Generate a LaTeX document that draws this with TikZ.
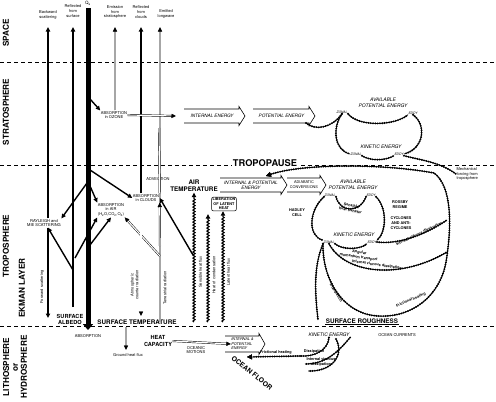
\documentclass[tikz,border=0pt]{standalone}
\usepackage{fontspec}
\setmainfont{TeX Gyre Heros}
\usepackage{graphicx}
\usetikzlibrary{arrows.meta,decorations.pathmorphing}
\tikzset{
  tiny/.style={font=\fontsize{4}{4.8}\selectfont, align=center, inner sep=0.4pt},
  tinyb/.style={font=\bfseries\fontsize{3.8}{4.9}\selectfont, align=center, inner sep=0.4pt},
  lab/.style={font=\bfseries\fontsize{6.3}{7}\selectfont, align=center, inner sep=0.5pt},
  labs/.style={font=\bfseries\fontsize{5.6}{6.4}\selectfont, align=center, inner sep=0.5pt},
  ital/.style={font=\itshape\fontsize{4.9}{5.8}\selectfont, align=center, inner sep=0.4pt},
  zone/.style={font=\itshape\fontsize{3.3}{3.6}\selectfont, inner sep=0.3pt},
  layer/.style={font=\bfseries\fontsize{8.2}{8.8}\selectfont, rotate=90, align=center, inner sep=0pt},
  layerline/.style={line width=0.8pt, dash pattern=on 4pt off 3pt},
  htext/.style={font=\itshape\fontsize{4.6}{5.3}\selectfont, align=center, inner sep=0.3pt},
  hollowline/.style={line width=0.6pt, line join=miter},
  arr/.style={-{Triangle[length=4.5pt,width=4.2pt]}},
  arrb/.style={-{Triangle[length=5pt,width=5pt,line width=0.3pt]}},
  bar1/.style={line width=1.4pt},
  bar2/.style={line width=2.3pt},
  qsbar/.style={line width=5pt},
  dbl/.style={double=white, double distance=1.1pt, line width=0.45pt},
  gdbl/.style={double=black!35, double distance=1.5pt, line width=0.45pt},
  bead/.style={preaction={draw, solid, line width=0.7pt}, line width=2.1pt, dash pattern=on 0pt off 2.3pt, line cap=round},
  wavy/.style={decorate, decoration={snake, amplitude=1.1pt, segment length=3pt, post length=5pt}, line width=1.1pt},
}
\newcommand\hollowarr[7]{%
  \draw[hollowline] ({#2},{#4-#5}) -- ({#3-6},{#4-#5}) -- ({#3-6},{#4-#5-2.5}) -- ({#3},{#4}) -- ({#3-6},{#4+#5+2.5}) -- ({#3-6},{#4+#5}) -- ({#2},{#4+#5});%
  \node[htext,#7] (#1) at ({(#2+#3)/2-2.5},{#4}) {#6};}
\begin{document}
\begin{tikzpicture}[x=1pt,y=-1pt]
\useasboundingbox (0,0) rectangle (496,402);
% layer boundaries
\draw[layerline] (0,62) -- (496,62);
\draw[layerline] (0,165) -- (496,165);
\draw[layerline] (0,326) -- (496,326);
\node[font=\bfseries\fontsize{9.3}{9.3}\selectfont, fill=white, inner sep=1pt] (tpause) at (265,163) {TROPOPAUSE};

% layer labels
\node[layer] (lspace) at (6,33) {SPACE};
\node[layer] (lstrat) at (6,112) {STRATOSPHERE};
\node[layer] (ltrop) at (6,246) {TROPOSPHERE};
\node[layer] (lekman) at (22,288) {EKMAN LAYER};
\node[layer] (llith) at (15,367) {LITHOSPHERE\\or\\HYDROSPHERE};

% top labels
\node[tiny] (lback) at (48,15) {Backward\\scattering};
\node[tiny] (lrefs) at (73,11) {Reflected\\from\\surface};
\node[font=\fontsize{4.5}{5}\selectfont, inner sep=0.3pt] (lqs) at (88,3) {Q\textsubscript{s}};
\node[tiny] (lemis) at (115,12) {Emission\\from\\stratosphere};
\node[tiny] (lrefc) at (141,12) {Reflected\\from\\clouds};
\node[tiny] (lemit) at (166,14) {Emitted\\longwave};

\coordinate (tback) at (48,27);
\coordinate (trefs) at (73,27);
\coordinate (qstop) at (88,8);
\coordinate (temis) at (115,27);
\coordinate (trefc) at (141,27);
\coordinate (temit) at (160,27);
\coordinate (bback) at (48,318);
\coordinate (brefs) at (73,307);
\coordinate (qsbot) at (88,330);
\coordinate (blong) at (160,322);

% nodes: atmosphere absorbers
\node[tiny, fill=white] (ozone) at (114,115) {ABSORPTION\\in OZONE};
\node[tiny, fill=white] (ray) at (44,223) {RAYLEIGH and\\MIE SCATTERING};
\node[tiny, fill=white] (absair) at (111,210) {ABSORPTION\\in AIR\\(H\textsubscript{2}O,CO\textsubscript{2},O\textsubscript{3})};
\node[tiny, fill=white] (abscl) at (146,198) {ABSORPTION\\in CLOUDS};
\node[tiny] (adv) at (158,179) {ADVECTION};
\node[tiny, rotate=90] (lfwd) at (42,287) {Forward scattering};
\node[tiny, rotate=90] (lacr) at (134.5,285) {Atmospheric\\counter radiation};
\node[tiny, rotate=90] (lterr) at (165,288) {Terrestrial radiation};

% surface nodes
\node[labs] (albedo) at (70,319.5) {SURFACE\\ALBEDO};
\node[tiny] (absorp) at (88,336) {ABSORPTION};
\node[lab] (stemp) at (137,322) {SURFACE TEMPERATURE};
\node[labs] (heatcap) at (158,341) {HEAT\\CAPACITY};
\node[tiny] (lgrd) at (128,355) {Ground heat flux};
\node[tiny] (locm) at (196,350) {OCEANIC\\MOTIONS};
\node[lab] (rough) at (362,321) {SURFACE ROUGHNESS};
\draw[line width=0.5pt] (rough.south west) -- (rough.south east);
\node[font=\bfseries\fontsize{6.8}{7}\selectfont, rotate=-39, inner sep=0.5pt] (floor) at (252,373) {OCEAN FLOOR};
\node[ital] (oke) at (329,335) {KINETIC ENERGY};
\node[tiny] (ocur) at (397,335) {OCEAN CURRENTS};

% vertical radiation lines
\draw[bar1,arr] (ray.north -| tback) -- (tback);
\draw[bar1,arr] (ray.south -| tback) -- (bback);
\draw[bar2,arr] (brefs) -- (trefs);
\draw[gdbl,arr] (ozone.north -| temis) -- (temis);
\draw[bar2,arr] (abscl.north -| trefc) -- (trefc);
\draw[gdbl,arr] (blong) -- (temit);
\draw[qsbar,-{Triangle[length=6pt,width=10pt]}] (qstop) -- (qsbot);

% branches of Qs
\coordinate (qs1) at (90,99);
\coordinate (qs2) at (90,170);
\coordinate (qs3) at (87,183);
\coordinate (qs4) at (90,186);
\coordinate (qs5) at (90,245);
\draw[bar1,arr] (qs1) -- (ozone.north west);
\draw[bar1,arr] (qs2) -- (abscl.west);
\draw[bar1,arr] (qs3) -- (ray.north east);
\draw[bar1,arr] (qs4) -- (absair.north west);
\draw[bar1,arr] (qs5) -- (absair.south);
% branches of surface reflection
\coordinate (rs1) at (73,270);
\coordinate (rs2) at (75,258);
\draw[bar1,arr] (rs1) -- (ray.-50);
\draw[bar1,arr] (rs2) -- (absair.south west);
% longwave
\coordinate (lw1) at (160,256);
\coordinate (lw2) at (160,246);
\coordinate (adv2) at (159,128);
\coordinate (crb) at (141,316);
\draw[dbl,arr] (lw1) -- (absair.south east);
\draw[dbl,arr] (lw2) -- (abscl.south east);
\draw[dbl,arr] (abscl.south -| crb) -- (crb);
\draw[dbl] (abscl.north east) -- (adv2);
% ozone to internal energy
\draw[dbl,arr] (ozone.east) -- (176,116);

% stratosphere energy
\hollowarr{inte}{184}{245}{116}{7}{INTERNAL ENERGY}{}
\hollowarr{pote}{253}{315}{116}{7}{POTENTIAL ENERGY}{}
\node[ital] (sape) at (383,103) {AVAILABLE\\POTENTIAL ENERGY};
\node[zone] (sz) at (342,112) {ZONAL};
\node[zone] (se) at (413,113) {EDDY};
\node[ital] (ske) at (381,147) {KINETIC ENERGY};
\node[zone] (skz) at (356,154) {ZONAL};
\node[zone] (skd) at (399,154) {EDDY};
\node[tiny, align=left, anchor=west] (mech) at (456,174) {Mechanical\\forcing from\\troposphere};
\coordinate (pe1) at (306,123);
\draw[bead] (pe1) .. controls (315,131) and (332,128) .. (sz.south);
\draw[bead] (sz.south east) .. controls (358,127) and (395,126) .. (se.south west);
\draw[bead] (se.south) .. controls (427,125) and (424,149) .. (skd.east);
\draw[bead] (sz.south) .. controls (332,128) and (334,150) .. (skz.west);
\draw[bead] (skz.south east) .. controls (370,161) and (385,161) .. (skd.south west);
\draw[bead] (skd.south east) .. controls (420,160) and (440,162) .. (mech.west);

% troposphere
\node[lab] (airt) at (194,186) {AIR\\TEMPERATURE};
\node[tinyb, font=\bfseries\fontsize{3.8}{4.5}\selectfont, draw, rounded corners=2pt, line width=0.5pt, inner sep=1pt] (lib) at (224,204) {LIBERATION\\OF LATENT\\HEAT};
\hollowarr{ipe}{220}{287}{185}{7}{INTERNAL \& POTENTIAL\\ENERGY}{}
\hollowarr{adc}{287}{326}{185}{7}{ADIABATIC\\CONVERSIONS}{font=\fontsize{3.8}{4.8}\selectfont}
\node[ital] (tape) at (353,185) {AVAILABLE\\POTENTIAL ENERGY};
\node[zone] (tz) at (330,195) {ZONAL};
\node[zone] (te) at (371,195) {EDDY};
\node[ital] (tke) at (354,235) {KINETIC ENERGY};
\node[zone] (tkz) at (329,242) {ZONAL};
\node[zone] (tkd) at (372,242) {EDDY};
\node[tinyb] (hadley) at (297,213) {HADLEY\\CELL};
\node[tinyb] (rossby) at (400,205) {ROSSBY\\REGIME};
\node[tinyb] (cyc) at (401,223) {CYCLONES\\AND ANTI-\\CYCLONES};
\node[tinyb, rotate=-12] (lsht) at (351,208) {Sensible\\heat transfer};
\node[tinyb, rotate=-8] (lamt) at (359,255) {Angular\\momentum transport};
\node[tinyb, rotate=25] (livd1) at (419,234) {Internal viscous dissipation};
\node[tinyb, rotate=-8] (livd2) at (377,265) {Internal viscous dissipation};
\node[tinyb, rotate=-58] (ldis) at (336,293) {Dissipation};
\node[tinyb, rotate=23] (lfric) at (411,300) {Frictional heating};

\draw[bead] (tz.south east) .. controls (340,213) and (360,213) .. (te.south west);
\draw[bead] (tz.south west) .. controls (309,210) and (307,236) .. (tkz.north west);
\draw[bead] (te.south east) .. controls (387,207) and (387,232) .. (tkd.north east);
\draw[bead] (tkz.south east) .. controls (342,250) and (360,250) .. (tkd.south west);
\coordinate (rj1) at (447,220);
\coordinate (rj2) at (447,252);
\coordinate (tpa) at (266,176);
\draw[bead] (tkd.east) .. controls (400,245) and (428,233) .. (rj1);
\draw[bead] (tkz.south) .. controls (345,274) and (400,280) .. (rj2);
\draw[bead, arrb] (tkz.south west) .. controls (322,278) and (342,314) .. (378,316) .. controls (412,318) and (440,296) .. (446,262) .. controls (452,226) and (452,186) .. (434,173) .. controls (380,163) and (300,164) .. (tpa);
\coordinate (rgh) at (318,320);
\draw[bead] (tkz.south west) .. controls (312,270) and (316,300) .. (rgh);

% heat fluxes
\coordinate (sw1) at (194,322);
\coordinate (sw2) at (208,322);
\coordinate (sw3) at (223,322);
\coordinate (hc) at (208,214);
\draw[wavy,arr] (sw1) -- (airt.south -| sw1);
\draw[wavy,arr] (sw2) -- (hc);
\draw[wavy,arr] (sw3) -- (lib.south -| sw3);
\node[tiny, rotate=90] (lsens) at (200.5,272) {Sensible heat flux};
\node[tiny, rotate=90] (lcond) at (214,275) {Heat of condensation};
\node[tiny, rotate=90] (llat) at (228.5,272) {Latent heat flux};
\coordinate (sh1) at (193,255);
\draw[bar1,arr] (sh1) -- (abscl.east);

% ocean
\coordinate (gh1) at (126,327);
\coordinate (gh2) at (126,350);
\draw[gdbl,arr] (gh1) -- (gh2);
\hollowarr{oipe}{225}{265}{344}{8}{INTERNAL \&\\POTENTIAL\\ENERGY}{align=left, font=\itshape\fontsize{3.8}{4.6}\selectfont}
\draw[dbl,arr] (heatcap.east) -- (oipe.west);
\coordinate (oe1) at (300,356);
\coordinate (oe2) at (247,357);
\draw[bead, arrb] (oe1) -- (oe2);
\node[tinyb] (lofh) at (276,352) {Frictional heating};
\draw[bead] (oke.south) .. controls (328,350) and (315,357) .. (oe1);
\draw[bead] (oke.south east) .. controls (338,352) and (326,364) .. (305,364);
\coordinate (oa1) at (336,339);
\coordinate (oa2) at (308,371);
\draw[bead] (oa1) .. controls (345,356) and (331,372) .. (oa2);
\node[tinyb] (lodis) at (314,351) {Dissipation};
\node[tinyb] (loivd) at (321,362) {Internal viscous\\dissipation};
\end{tikzpicture}
\end{document}
